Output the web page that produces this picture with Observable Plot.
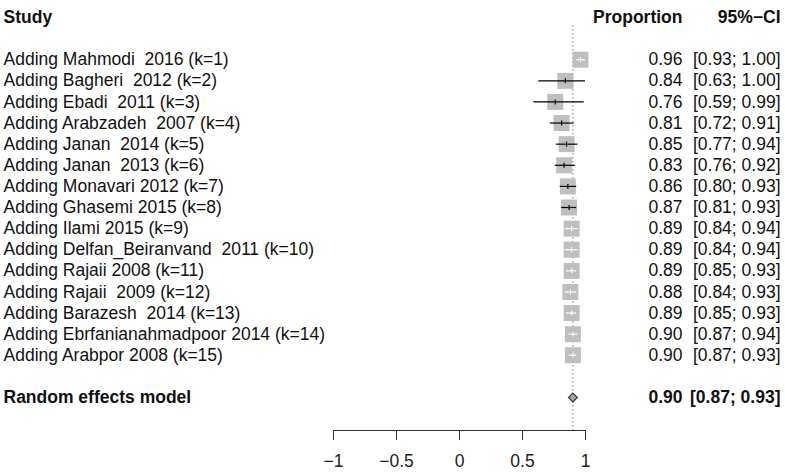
<!DOCTYPE html>
<html><head><meta charset="utf-8">
<script src="https://cdn.jsdelivr.net/npm/d3@7"></script>
<script src="https://cdn.jsdelivr.net/npm/@observablehq/plot@0.6"></script>
<style>
body{margin:0;background:#fff}
svg text{white-space:pre}
</style></head><body><div id="chart"></div>
<script>
const studies = [
  "Adding Mahmodi  2016 (k=1)",
  "Adding Bagheri  2012 (k=2)",
  "Adding Ebadi  2011 (k=3)",
  "Adding Arabzadeh  2007 (k=4)",
  "Adding Janan  2014 (k=5)",
  "Adding Janan  2013 (k=6)",
  "Adding Monavari 2012 (k=7)",
  "Adding Ghasemi 2015 (k=8)",
  "Adding Ilami 2015 (k=9)",
  "Adding Delfan_Beiranvand  2011 (k=10)",
  "Adding Rajaii 2008 (k=11)",
  "Adding Rajaii  2009 (k=12)",
  "Adding Barazesh  2014 (k=13)",
  "Adding Ebrfanianahmadpoor 2014 (k=14)",
  "Adding Arabpor 2008 (k=15)"
];
const est   = [0.96, 0.84, 0.76, 0.81, 0.85, 0.83, 0.86, 0.87, 0.89, 0.89, 0.89, 0.88, 0.89, 0.90, 0.90];
const lower = [0.93, 0.63, 0.59, 0.72, 0.77, 0.76, 0.80, 0.81, 0.84, 0.84, 0.85, 0.84, 0.85, 0.87, 0.87];
const upper = [1.00, 1.00, 0.99, 0.91, 0.94, 0.92, 0.93, 0.93, 0.94, 0.94, 0.93, 0.93, 0.93, 0.94, 0.93];
const pooledLabel = "Random effects model";
const pooledEst = [0.90];
const pooledLower = [0.87];
const pooledUpper = [0.93];
const headers = ["Study", "Proportion", "95%\u2212CI"];
const xTicks = [-1, -0.5, 0, 0.5, 1];

const W = 785, H = 473;
const X0 = 333, X1 = 585;
const pxPerUnit = (X1 - X0) / 2;
const boxSide = 16;
const halfIn = (boxSide / 2 - 1) / pxPerUnit;
const fmt = d3.format(".2f");
const rows = studies.map((s, i) => ({
  label: s, est: est[i], lower: lower[i], upper: upper[i], row: i + 2,
  inside: lower[i] > est[i] - halfIn && upper[i] < est[i] + halfIn
}));
const reRow = studies.length + 3;
const pooled = [{label: pooledLabel, est: pooledEst[0], lower: pooledLower[0], upper: pooledUpper[0], row: reRow}];

const vtick = {draw(ctx, size) { const r = Math.sqrt(size / Math.PI); ctx.moveTo(0, -r); ctx.lineTo(0, r); }};
const minusFmt = d => d < 0 ? "\u2212" + (-d) : String(d);
const font = "'Liberation Sans', Arial, Helvetica, sans-serif";
const txt = "#111";
const colProp = 682 - X1, colCI = 780 - X1, colLeft = -(X0 - 3);

const chart = Plot.plot({
  width: W, height: H,
  marginLeft: X0, marginRight: W - X1, marginTop: 25, marginBottom: 43,
  style: {fontFamily: font, fontSize: "17.5px", background: "white", color: txt, overflow: "visible"},
  x: {domain: [-1, 1]},
  y: {domain: [0, reRow], range: [17, 397], axis: null},
  marks: [
    Plot.ruleX(pooledEst, {stroke: "#777", strokeDasharray: "1.5,2.5"}),
    Plot.frame({anchor: "bottom", stroke: "#333"}),
    Plot.axisX({ticks: xTicks, tickSize: 10, tickPadding: 14, tickFormat: minusFmt, fontSize: 17.5, stroke: "#333", fill: "#222", label: null}),
    Plot.dot(rows, {x: "est", y: "row", symbol: "square", r: boxSide / Math.sqrt(Math.PI), fill: "#bfbfbf"}),
    Plot.ruleY(rows, {y: "row", x1: "lower", x2: "upper", stroke: d => d.inside ? "white" : "black", strokeWidth: 1.2}),
    Plot.dot(rows, {x: "est", y: "row", symbol: vtick, r: 2.5, stroke: d => d.inside ? "white" : "black", strokeWidth: 1.2}),
    Plot.dot(pooled, {x: "est", y: "row", symbol: "diamond2", r: 4, fill: "#a8a8a8", stroke: "#333", strokeWidth: 1.2}),
    // left column
    Plot.text(rows, {y: "row", text: "label", frameAnchor: "left", dx: colLeft, textAnchor: "start", fill: txt}),
    Plot.text(pooled, {y: "row", text: "label", frameAnchor: "left", dx: colLeft, textAnchor: "start", fill: txt, fontWeight: "bold"}),
    // proportion column
    Plot.text(rows, {y: "row", text: d => fmt(d.est), frameAnchor: "right", dx: colProp, textAnchor: "end", fill: txt}),
    Plot.text(pooled, {y: "row", text: d => fmt(d.est), frameAnchor: "right", dx: colProp, textAnchor: "end", fill: txt, fontWeight: "bold"}),
    // CI column
    Plot.text(rows, {y: "row", text: d => `[${fmt(d.lower)}; ${fmt(d.upper)}]`, frameAnchor: "right", dx: colCI, textAnchor: "end", fill: txt}),
    Plot.text(pooled, {y: "row", text: d => `[${fmt(d.lower)}; ${fmt(d.upper)}]`, frameAnchor: "right", dx: colCI, textAnchor: "end", fill: txt, fontWeight: "bold"}),
    // headers
    Plot.text([headers[0]], {y: () => 0, text: d => d, frameAnchor: "left", dx: colLeft, textAnchor: "start", fill: txt, fontWeight: "bold"}),
    Plot.text([headers[1]], {y: () => 0, text: d => d, frameAnchor: "right", dx: colProp, textAnchor: "end", fill: txt, fontWeight: "bold"}),
    Plot.text([headers[2]], {y: () => 0, text: d => d, frameAnchor: "right", dx: colCI, textAnchor: "end", fill: txt, fontWeight: "bold"})
  ]
});
document.getElementById("chart").appendChild(chart);
</script></body></html>
